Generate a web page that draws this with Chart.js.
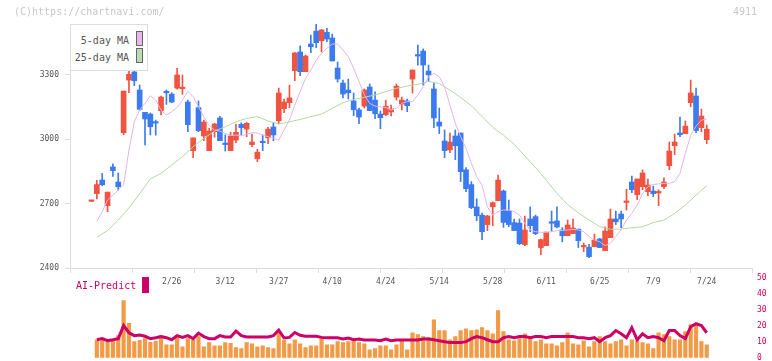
<!DOCTYPE html>
<html>
<head>
<meta charset="utf-8">
<script src="https://cdn.jsdelivr.net/npm/chart.js@4.4.1/dist/chart.umd.min.js"></script>
<style>
  body { margin: 0; background: #fff; width: 772px; height: 361px; overflow: hidden; position: relative;
         font-family: "DejaVu Sans Mono", monospace; }
  canvas { position: absolute; left: 0; }
  #main { top: 0; }
  #vol { top: 262px; }
  .txt { position: absolute; white-space: nowrap; line-height: 1; }
  #legend { position: absolute; left: 70px; top: 24px; width: 76px; height: 45px; border: 1px solid #ddd; background: #fff; }
  .sw { position: absolute; width: 5px; height: 13px; border: 1px solid #666; }
</style>
</head>
<body>
<canvas id="main" width="772" height="300"></canvas>
<canvas id="vol" width="772" height="110"></canvas>

<div class="txt" style="left:14px;top:7px;font-size:10px;color:#c8c8c8">(C)https://chartnavi.com/</div>
<div class="txt" style="left:733px;top:7px;font-size:10px;color:#c8c8c8">4911</div>

<div id="legend">
  <div class="txt" style="right:18px;top:11px;font-size:10px;color:#555">5-day MA</div>
  <div class="txt" style="right:18px;top:28px;font-size:10px;color:#555">25-day MA</div>
  <div class="sw" style="left:65px;top:6px;background:#e8b8ec"></div>
  <div class="sw" style="left:65px;top:23px;background:#b8dcb0"></div>
</div>

<div class="txt" style="left:76px;top:281px;font-size:10px;color:#cc0066">AI-Predict</div>
<div style="position:absolute;left:142px;top:277px;width:7px;height:16px;background:#cc0066"></div>

<script>
// 日足 (index 0 = 最初のローソク足)
const opens  = [2710,2746,2809,2690,2870,2800,3029,3274,3312,3228, 3124,3116,3077,3132,3220,3209,3237,3234,3172,2946,
                3146,3014,2946,3034,3098,2977,2946,2995,3068,3046, 2974,2908,2986,3006,3056,3085,3141,3169,3318,3405,
                3313,3442,3502,3457,3496,3470,3330,3260,3228,3177, 3136,3153,3242,3181,3116,3113,3126,3195,3163,3177,
                3279,3392,3409,3316,3233,3079,2991,2950,3014,3028, 2857,2788,2684,2646,2602,2685,2713,2758,2665,2611,
                2609,2509,2628,2639,2495,2504,2611,2619,2577,2550, 2560,2581,2498,2496,2499,2535,2481,2541,2628,2651,
                2705,2800,2741,2778,2755,2758,2749,2778,2876,2969, 3028,3025,3169,3200,3053,2997];
const highs  = [2710,2808,2840,2753,2884,2842,3223,3340,3357,3251, 3124,3121,3088,3200,3228,3215,3329,3298,3181,3005,
                3177,3088,3050,3073,3105,3019,3031,3070,3076,3077, 3023,2952,3019,3054,3074,3237,3186,3251,3403,3433,
                3391,3484,3535,3510,3515,3488,3358,3274,3279,3214, 3144,3233,3256,3219,3130,3181,3158,3256,3195,3186,
                3321,3437,3419,3344,3259,3144,3042,3028,3042,3028, 2867,2802,2722,2656,2645,2707,2832,2763,2716,2628,
                2628,2642,2684,2646,2535,2567,2665,2684,2588,2623, 2628,2581,2516,2510,2558,2538,2591,2674,2665,2665,
                2767,2828,2814,2856,2814,2781,2764,2819,2986,3023, 3102,3084,3274,3237,3139,3065];
const lows   = [2710,2721,2783,2662,2826,2763,3020,3215,3248,3133, 2972,3019,3018,3112,3161,3169,3232,3208,3034,2913,
                3034,2992,2946,3008,2992,2944,2946,2983,3019,3011, 2964,2895,2946,2978,2992,3071,3122,3146,3271,3295,
                3313,3402,3425,3405,3453,3363,3265,3191,3186,3108, 3071,3144,3132,3095,3048,3108,3108,3181,3135,3127,
                3214,3344,3251,3267,3053,3025,2913,2936,2904,2802, 2755,2676,2620,2532,2574,2597,2713,2589,2592,2574,
                2509,2504,2569,2555,2462,2504,2572,2586,2522,2550, 2560,2495,2476,2448,2499,2495,2481,2541,2602,2588,
                2670,2750,2718,2764,2736,2732,2690,2769,2857,2927, 3011,3025,3150,3029,3034,2978];
const closes = [2710,2788,2787,2753,2853,2778,3223,3301,3271,3138, 3093,3057,3074,3195,3215,3172,3298,3237,3067,3005,
                3039,3079,3037,3070,2992,2974,3014,3031,3053,3073, 2986,2939,2983,3046,3019,3214,3172,3191,3400,3313,
                3386,3429,3448,3507,3465,3363,3279,3209,3215,3136, 3102,3228,3132,3118,3099,3153,3140,3246,3181,3155,
                3321,3386,3344,3299,3098,3060,2946,2986,2969,2848, 2769,2681,2643,2569,2642,2704,2809,2612,2602,2574,
                2513,2577,2597,2560,2532,2567,2608,2591,2550,2600, 2586,2527,2501,2453,2530,2495,2572,2628,2615,2628,
                2710,2764,2814,2842,2786,2746,2752,2800,2944,2986, 3020,3060,3214,3039,3107,3046];

// 5日移動平均 (index 1 から)
const ma5 = [null,2617,2662,2716,2739,2763,2787,2949,3080,3135, 3166,3201,3181,3135,3111,3127,3147,3181,3222,3197,
             3150,3104,3063,3042,3037,3026,3018,3018,3015,3022, 3029,3029,3018,3011,3003,2995,3042,3088,3158,3220,
             3282,3321,3367,3398,3422,3442,3442,3414,3383,3329, 3267,3205,3166,3153,3150,3147,3135,3143,3166,3174,
             3174,3205,3243,3290,3305,3290,3243,3158,3073,3011, 2957,2887,2825,2786,2685,2646,2662,2670,2670,2662,
             2646,2608,2577,2569,2566,2566,2569,2574,2574,2577, 2580,2577,2569,2546,2530,2522,2504,2515,2546,2577,
             2623,2654,2693,2747,2778,2789,2791,2794,2794,2802, 2840,2933,3018,3060,3088,3093];

// 25日移動平均 (index 1,3,5,... の値)
const ma25 = [2543,2574,2623,2680,2745,2815,2840,2879,2918,2964, 3003,3037,3057,3080,3096,3104,3084,3070,3080,3091,
              3104,3116,3143,3169,3184,3194,3205,3220,3236,3246, 3254,3268,3258,3228,3193,3155,3105,3054,3018,2976,
              2921,2867,2809,2747,2695,2657,2623,2592,2580,2581, 2587,2592,2611,2623,2654,2693,2739,2783];

// 出来高 と AI-Predict
const volume = [null,11.3,12,9.9,11.3,13.9,35.9,21.6,10.1,11, 12,9.7,10.3,13.9,8.1,8.1,13.1,6.9,12,11.3,
                13.3,6.9,9.5,7.5,7.5,9.5,9,6.3,5.7,9.5, 8.8,6.9,7.5,6.3,5.7,16.6,10.9,8.8,11.3,8.8,
                6.3,7.5,7.5,12,8.1,8.1,10.1,9.5,10.1,11.3, 9.5,8.8,5,5.7,7.5,7.5,5,8.1,10.3,5,
                15.7,14.5,13.3,12.6,23.9,17,17,11.3,13.3,17, 18.2,17,17.6,18.9,17,15.1,29.6,16.4,11.3,10.7,
                12,15.1,12,10.1,11.3,8.8,8.8,7.5,9.5,15.7, 8.8,8.1,10.7,6.9,10.1,13.3,10.1,8.8,10.1,11.3,
                7.5,11.3,10.7,9.5,8.8,5.7,15.7,14.5,13.3,11.3, 11.3,16.4,20.8,21.4,10.1,8.1];
const aiPredict = [null,11.3,12,10.7,11.3,12,20.2,15.7,13.9,14.3, 13.5,12,12.6,13.3,12.6,11.3,13.9,12.8,13.9,12,
                   15.5,13.3,12,12,13.9,13.1,13.1,16.8,13.9,13.1, 13.1,13.1,13.1,13.1,13.9,17.4,12.4,12.8,15.9,14.1,
                   13.5,13.5,13.5,12.8,12.6,12.6,12.6,11.8,12.4,11.3, 11.8,11.1,11.1,11.1,10.7,11.8,10.7,11.1,11.1,11.1,
                   11.1,11.1,11.8,11.8,11.3,10.7,10.1,9.5,9.5,9.5, 10.1,12,13.3,12.6,11.3,10.1,10.1,12.6,13.3,12.6,
                   13.3,13.3,12.6,13.3,13.3,12.6,13.3,13.3,13.3,13.3, 13.3,12.6,12.6,12,12.6,10.1,12.6,13.9,17.1,15.1,
                   12.6,18.9,11.3,15.1,12.6,13.3,12.6,10.7,17.1,17.1, 13.9,12,19.5,21.4,20.2,15.7];

// 日付ラベル
const tickLabels = ["2/26","3/12","3/27","4/10","4/24","5/14","5/28","6/11","6/25","7/9","7/24"];
const tickIndex  = [15,25,35,45,55,65,75,85,95,105,115];

const FONT = "'DejaVu Sans Mono', monospace";
const RED = "#f0533f", BLUE = "#3c7bef";
const X_MIN = -4.02, X_MAX = 123.46;
const candleColors = opens.map((o, i) => closes[i] >= o ? RED : BLUE);
const divisions = [];
for (let k = 0; k <= 11; k++) divisions.push(X_MIN + k * (X_MAX - X_MIN) / 11);

new Chart(document.getElementById("main"), {
    type: "bar",
    data: {
        datasets: [
            { type: "line", data: ma5.map((v, i) => ({ x: i, y: v })), borderColor: "#e6b3ea", borderWidth: 1,
              pointRadius: 0, order: 0 },
            { type: "line", data: ma25.map((v, k) => ({ x: 1 + 2 * k, y: v })), borderColor: "#b3d9a5", borderWidth: 1,
              pointRadius: 0, order: 0 },
            { type: "bar", data: opens.map((o, i) => ({ x: i, y: [o, closes[i]] })), backgroundColor: candleColors,
              barThickness: 5, minBarLength: 1.5, grouped: false, order: 1 },
            { type: "bar", data: lows.map((l, i) => ({ x: i, y: [l, highs[i]] })), backgroundColor: candleColors,
              barThickness: 1, grouped: false, order: 2 }
        ]
    },
    options: {
        responsive: false,
        animation: false,
        layout: { padding: { left: 0, right: 20, top: 24, bottom: 0 } },
        plugins: { legend: { display: false }, tooltip: { enabled: false } },
        scales: {
            x: {
                type: "linear", min: X_MIN, max: X_MAX, offset: false,
                afterBuildTicks: s => {
                    s.ticks = divisions.concat(tickIndex).sort((a, b) => a - b).map(v => ({ value: v }));
                },
                afterFit: s => { s.height = 32; s.paddingLeft = 0; s.paddingRight = 0; },
                ticks: {
                    autoSkip: false, maxRotation: 0, padding: 4, color: "#555", font: { family: FONT, size: 8 },
                    callback: v => { const k = tickIndex.indexOf(v); return k >= 0 ? tickLabels[k] : ""; }
                },
                grid: {
                    offset: false, drawOnChartArea: false, tickLength: 5,
                    color: ctx => (ctx.tick && tickIndex.includes(ctx.tick.value)) ? "rgba(0,0,0,0)" : "#dcdcdc"
                },
                border: { color: "#dcdcdc" }
            },
            y: {
                min: 2400, max: 3535,
                afterBuildTicks: s => { s.ticks = [2400, 2700, 3000, 3300].map(v => ({ value: v })); },
                afterFit: s => { s.width = 70; },
                ticks: { padding: 6, color: "#555", font: { family: FONT, size: 8 }, callback: v => String(v) },
                grid: { drawOnChartArea: false, tickLength: 5, color: "#dcdcdc" },
                border: { color: "#dcdcdc" }
            }
        }
    }
});

new Chart(document.getElementById("vol"), {
    type: "bar",
    data: {
        datasets: [
            { type: "line", data: aiPredict.map((v, i) => ({ x: i, y: v })), borderColor: "#cc0066", borderWidth: 3,
              pointRadius: 0, order: 0 },
            { type: "bar", data: volume.map((v, i) => ({ x: i, y: v })), backgroundColor: "#f29a45",
              barThickness: 3.5, order: 1 }
        ]
    },
    options: {
        responsive: false,
        animation: false,
        layout: { padding: { left: 70, right: 0, top: 16.3, bottom: 14.3 } },
        plugins: { legend: { display: false }, tooltip: { enabled: false } },
        scales: {
            x: { type: "linear", min: X_MIN, max: X_MAX, offset: false, grid: { offset: false }, display: false },
            y: {
                position: "right", min: 0, max: 50,
                afterFit: s => { s.width = 20; s.paddingTop = 0; s.paddingBottom = 0; },
                ticks: { stepSize: 10, padding: 5, color: "#cc0066", font: { family: FONT, size: 8 } },
                grid: { display: false, drawTicks: false },
                border: { display: false }
            }
        }
    }
});
</script>
</body>
</html>
